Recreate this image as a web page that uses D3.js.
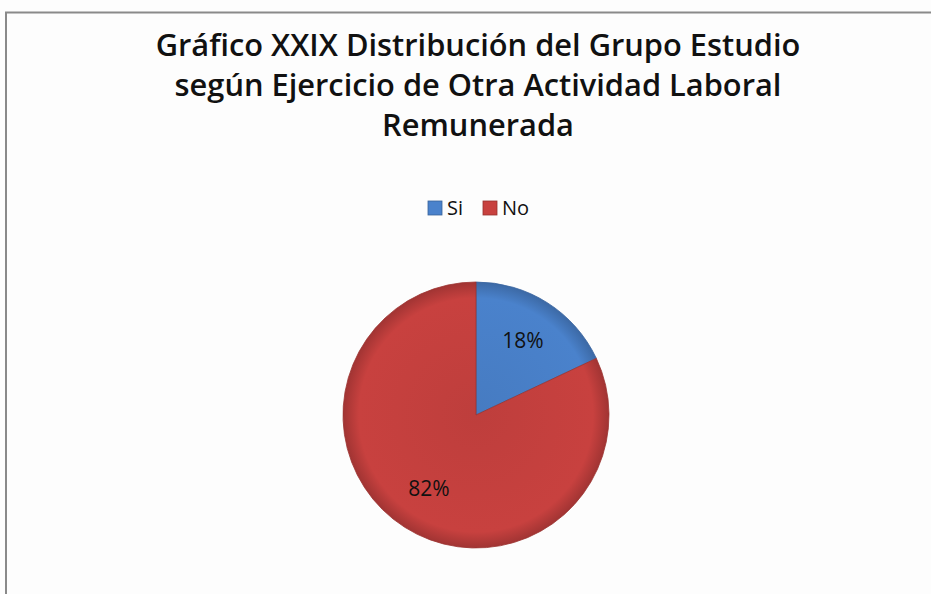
<!DOCTYPE html>
<html>
<head>
<meta charset="utf-8">
<script src="https://cdn.jsdelivr.net/npm/d3@7"></script>
<style>
  body { margin: 0; background: #fff; }
  svg { display: block; }
</style>
</head>
<body>
<svg width="931" height="594"></svg>
<script>
var categories = ["Si", "No"];
var values = [18, 82];
var colors = ["#4a82cc", "#c8413f"];
var titleLines = [
    "Gráfico XXIX Distribución del Grupo Estudio",
    "según Ejercicio de Otra Actividad Laboral",
    "Remunerada"
];

var svg = d3.select("svg");
var fontFamily = "'Open Sans', 'Noto Sans', sans-serif";

// chart area border (only top and left edges show)
svg.append("rect")
    .attr("x", 0).attr("y", 0).attr("width", 931).attr("height", 594)
    .attr("fill", "#fdfdfd");
svg.append("path")
    .attr("d", "M931,12.5 H6 V594")
    .attr("fill", "none")
    .attr("stroke", "#8a8a8a")
    .attr("stroke-width", 2);

// title
var title = svg.append("g");
title.selectAll("text")
    .data(titleLines)
    .enter()
    .append("text")
    .attr("x", 478)
    .attr("y", function(d, i) { return 56 + i * 40; })
    .attr("text-anchor", "middle")
    .attr("font-family", fontFamily)
    .attr("font-weight", 600)
    .attr("font-size", 30)
    .attr("fill", "#111")
    .text(function(d) { return d; });

// shrink title so the first line spans like the reference
var firstW = title.select("text").node().getComputedTextLength();
var fs = 30 * 645 / firstW;
title.selectAll("text").attr("font-size", fs);

// legend
var legendX = [428, 483];
var legend = svg.append("g");
var items = legend.selectAll(".item")
    .data(categories)
    .enter()
    .append("g")
    .attr("class", "item")
    .attr("transform", function(d, i) { return "translate(" + legendX[i] + ",201)"; });
items.append("rect")
    .attr("width", 14).attr("height", 14)
    .attr("fill", function(d, i) { return colors[i]; })
    .attr("stroke", function(d, i) { return d3.color(colors[i]).darker(0.8); })
    .attr("stroke-width", 0.8);
items.append("text")
    .attr("x", 19).attr("y", 14)
    .attr("font-family", fontFamily)
    .attr("font-size", 20)
    .attr("fill", "#111")
    .text(function(d) { return d; });

// pie
var cx = 476, cy = 415, r = 133;
var defs = svg.append("defs");
colors.forEach(function(c, i) {
    var g = defs.append("radialGradient")
        .attr("id", "grad" + i)
        .attr("gradientUnits", "userSpaceOnUse")
        .attr("cx", 0).attr("cy", 0).attr("r", r);
    g.append("stop").attr("offset", "0%").attr("stop-color", d3.color(c).darker(0.15));
    g.append("stop").attr("offset", "88%").attr("stop-color", c);
    g.append("stop").attr("offset", "100%").attr("stop-color", d3.color(c).darker(0.6));
});

var pie = d3.pie().sort(null).value(function(d) { return d; });
var arc = d3.arc().innerRadius(0).outerRadius(r);
var labelArc = d3.arc().innerRadius(r * 0.66).outerRadius(r * 0.66);

var pieG = svg.append("g").attr("transform", "translate(" + cx + "," + cy + ")");
var slices = pie(values);

pieG.selectAll("path")
    .data(slices)
    .enter()
    .append("path")
    .attr("d", arc)
    .attr("fill", function(d, i) { return "url(#grad" + i + ")"; })
    .attr("stroke", function(d, i) { return d3.color(colors[i]).darker(0.7); })
    .attr("stroke-width", 0.8);

var total = d3.sum(values);
pieG.selectAll(".lbl")
    .data(slices)
    .enter()
    .append("text")
    .attr("class", "lbl")
    .attr("transform", function(d) { return "translate(" + labelArc.centroid(d) + ")"; })
    .attr("text-anchor", "middle")
    .attr("dy", "0.35em")
    .attr("font-family", fontFamily)
    .attr("font-size", 21)
    .attr("fill", "#111")
    .text(function(d) { return Math.round(d.value / total * 100) + "%"; });
</script>
</body>
</html>
